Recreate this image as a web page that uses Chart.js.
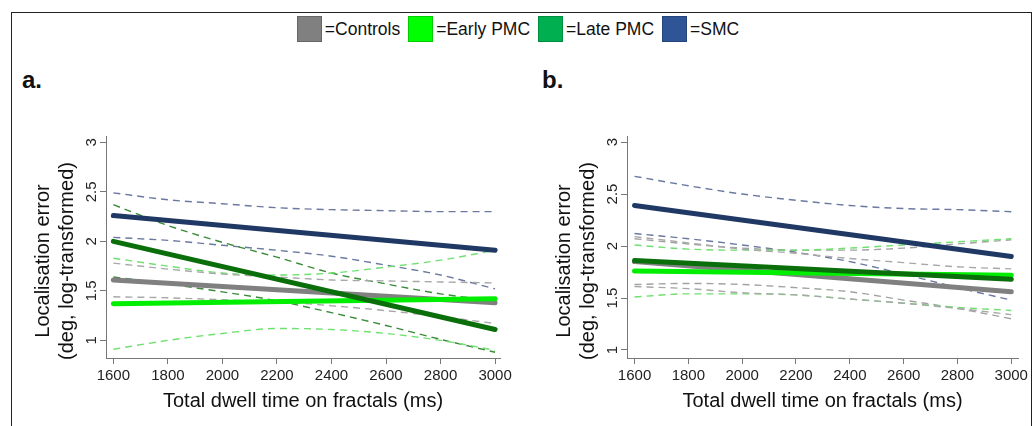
<!DOCTYPE html>
<html>
<head>
<meta charset="utf-8">
<script src="https://cdn.jsdelivr.net/npm/chart.js@4.4.1/dist/chart.umd.min.js"></script>
<style>
  body { margin: 0; width: 1036px; height: 426px; background: #fff; position: relative; overflow: hidden;
         font-family: "Liberation Sans", Arial, sans-serif; color: #111; }
  #frame { position: absolute; left: 11px; top: 12px; width: 1019px; height: 440px;
           border: 1.5px solid #222; border-bottom: none; }
  #legend { position: absolute; top: 16px; left: 0; width: 1036px; display: flex;
            justify-content: center; align-items: center; font-size: 17.5px; }
  .item { display: flex; align-items: center; margin: 0 4px; }
  .sw { width: 25px; height: 26px; box-sizing: border-box; border: 1px solid rgba(0,0,0,0.2); margin-right: 3px; }
  .tag { position: absolute; top: 66px; font-weight: bold; font-size: 24px; }
  canvas { position: absolute; }
</style>
</head>
<body>
<div id="frame"></div>
<div id="legend"></div>
<div class="tag" style="left:22px">a.</div>
<div class="tag" style="left:542px">b.</div>
<canvas id="panelA" width="520" height="316" style="left:0;top:110px"></canvas>
<canvas id="panelB" width="516" height="316" style="left:520px;top:110px"></canvas>
<script>
const groups = ['Controls', 'Early PMC', 'Late PMC', 'SMC'];
const keyColors = ['#808080', '#00ff00', '#00b050', '#2f5597'];
const fitColors = ['#808080', '#00ee00', '#0a6e0a', '#1f3864'];

const xTicks = [1600, 1800, 2000, 2200, 2400, 2600, 2800, 3000];
const yTicks = [1, 1.5, 2, 2.5, 3];
const xTitle = 'Total dwell time on fractals (ms)';
const yTitleLines = ['Localisation error', '(deg, log-transformed)'];

// fitted lines, value at 1600 and 3000 ms
const fitX = [1600, 3000];
const aControlsFit = [1.61, 1.38];
const aEarlyFit = [1.37, 1.42];
const aLateFit = [2.00, 1.11];
const aSmcFit = [2.26, 1.91];

const bControlsFit = [1.85, 1.56];
const bEarlyFit = [1.76, 1.72];
const bLateFit = [1.86, 1.68];
const bSmcFit = [2.39, 1.90];

// confidence bands, read at every x tick
const aControlsHi = [1.78, 1.72, 1.67, 1.64, 1.61, 1.60, 1.59, 1.58];
const aControlsLo = [1.44, 1.43, 1.41, 1.39, 1.35, 1.30, 1.24, 1.17];
const aEarlyHi = [1.83, 1.75, 1.68, 1.66, 1.68, 1.74, 1.81, 1.91];
const aEarlyLo = [0.91, 1.00, 1.07, 1.12, 1.11, 1.07, 1.00, 0.90];
const aLateHi = [2.37, 2.16, 1.99, 1.84, 1.68, 1.57, 1.47, 1.40];
const aLateLo = [1.64, 1.57, 1.49, 1.40, 1.28, 1.15, 1.01, 0.88];
const aSmcHi = [2.49, 2.42, 2.38, 2.34, 2.32, 2.31, 2.30, 2.30];
const aSmcLo = [2.04, 2.01, 1.96, 1.91, 1.85, 1.76, 1.66, 1.52];

const bControlsHi = [2.09, 2.03, 1.97, 1.93, 1.88, 1.84, 1.80, 1.78];
const bControlsLo = [1.61, 1.59, 1.55, 1.53, 1.49, 1.45, 1.40, 1.34];
const bEarlyHi = [2.01, 1.97, 1.96, 1.96, 1.98, 2.01, 2.04, 2.07];
const bEarlyLo = [1.51, 1.54, 1.54, 1.53, 1.49, 1.45, 1.41, 1.38];
const bLateHi = [2.07, 2.02, 1.98, 1.96, 1.96, 1.98, 2.02, 2.06];
const bLateLo = [1.63, 1.64, 1.63, 1.60, 1.56, 1.48, 1.40, 1.30];
const bSmcHi = [2.67, 2.58, 2.50, 2.44, 2.39, 2.36, 2.35, 2.33];
const bSmcLo = [2.12, 2.07, 2.01, 1.94, 1.85, 1.73, 1.60, 1.48];

const font = '"Liberation Sans", Arial, sans-serif';

// legend
const legend = document.getElementById('legend');
groups.forEach((g, i) => {
  const it = document.createElement('div');
  it.className = 'item';
  it.innerHTML = '<div class="sw" style="background:' + keyColors[i] + '"></div><span>=' + g + '</span>';
  legend.appendChild(it);
});

// rotated two-line y title, a bit below the middle of the plot like the original
const yTitlePlugin = {
  id: 'yTitle',
  afterDraw(chart) {
    const { ctx, chartArea } = chart;
    const cy = (chartArea.top + chartArea.bottom) / 2 + 14;
    ctx.save();
    ctx.fillStyle = '#111';
    ctx.font = '20px ' + font;
    ctx.textAlign = 'center';
    ctx.textBaseline = 'middle';
    yTitleLines.forEach((t, k) => {
      ctx.save();
      ctx.translate(chartArea.left - 63 + k * 24, cy);
      ctx.rotate(-Math.PI / 2);
      ctx.fillText(t, 0, 0);
      ctx.restore();
    });
    ctx.restore();
  }
};

function makePanel(id, fits, his, los, ciColors, xr, yr, yAxisW, padRight) {
  const datasets = [];
  groups.forEach((g, i) => {
    [his[i], los[i]].forEach(band => {
      datasets.push({
        label: g + ' CI',
        data: xTicks.map((x, k) => ({ x: x, y: band[k] })),
        borderColor: ciColors[i],
        borderWidth: 1.4,
        borderDash: [7, 5],
        pointRadius: 0,
        cubicInterpolationMode: 'monotone',
        order: 10
      });
    });
  });
  groups.forEach((g, i) => {
    datasets.push({
      label: g,
      data: fitX.map((x, k) => ({ x: x, y: fits[i][k] })),
      borderColor: fitColors[i],
      borderWidth: 5,
      borderCapStyle: 'round',
      pointRadius: 0,
      order: 3 - i
    });
  });

  return new Chart(document.getElementById(id), {
    type: 'line',
    data: { datasets: datasets },
    plugins: [yTitlePlugin],
    options: {
      responsive: false,
      animation: false,
      layout: { padding: { left: 0, right: padRight, top: 26, bottom: 0 } },
      plugins: { legend: { display: false }, tooltip: { enabled: false } },
      scales: {
        x: {
          type: 'linear',
          min: xr[0], max: xr[1],
          afterBuildTicks: s => { s.ticks = xTicks.map(v => ({ value: v })); },
          afterFit: s => { s.height = 68; },
          grid: { drawOnChartArea: false, tickLength: 6, color: '#777' },
          border: { color: '#777', width: 1 },
          ticks: { autoSkip: false, maxRotation: 0, padding: 3, color: '#222', font: { family: font, size: 15 },
                   callback: v => String(v) },
          title: { display: true, text: xTitle, color: '#111', font: { family: font, size: 20 }, padding: { top: 0, bottom: 13 } }
        },
        y: {
          min: yr[0], max: yr[1],
          afterBuildTicks: s => { s.ticks = yTicks.map(v => ({ value: v })); },
          afterFit: s => { s.width = yAxisW; },
          grid: { drawOnChartArea: false, tickLength: 6, color: '#777' },
          border: { color: '#777', width: 1 },
          ticks: { minRotation: 90, maxRotation: 90, crossAlign: 'center', padding: -2, color: '#222',
                   font: { family: font, size: 15 }, callback: v => String(v) }
        }
      }
    }
  });
}

makePanel('panelA',
  [aControlsFit, aEarlyFit, aLateFit, aSmcFit],
  [aControlsHi, aEarlyHi, aLateHi, aSmcHi],
  [aControlsLo, aEarlyLo, aLateLo, aSmcLo],
  ['#a8a8a8', '#70e070', '#3a8a3a', '#6b79a0'],
  [1573, 3018], [0.822, 3.064], 106, 20);

makePanel('panelB',
  [bControlsFit, bEarlyFit, bLateFit, bSmcFit],
  [bControlsHi, bEarlyHi, bLateHi, bSmcHi],
  [bControlsLo, bEarlyLo, bLateLo, bSmcLo],
  ['#a8a8a8', '#70e070', '#a0a4a0', '#6b79a0'],
  [1572, 3025], [0.923, 3.058], 107, 18);
</script>
</body>
</html>
